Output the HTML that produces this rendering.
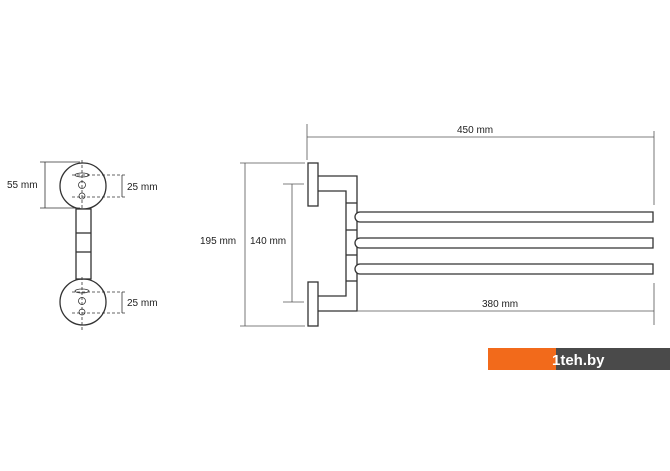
<!DOCTYPE html>
<html><head><style>html,body{margin:0;padding:0;background:#fff}svg{display:block}</style></head>
<body>
<svg width="670" height="471" viewBox="0 0 670 471" xmlns="http://www.w3.org/2000/svg" font-family="Liberation Sans, sans-serif" font-size="10" fill="none" stroke="#333">
<!-- left view -->
<g stroke-width="1.3">
<circle cx="83" cy="186" r="23"/>
<circle cx="83" cy="302" r="23"/>
<rect x="76" y="209" width="15" height="70" fill="#fff"/>
<line x1="76" y1="233" x2="91" y2="233"/>
<line x1="76" y1="252" x2="91" y2="252"/>
</g>
<g stroke-width="0.8">
<ellipse cx="82" cy="175" rx="7" ry="2"/><circle cx="82" cy="185" r="3.5"/><circle cx="82" cy="196" r="3"/>
<ellipse cx="82" cy="291" rx="7" ry="2"/><circle cx="82" cy="301" r="3.5"/><circle cx="82" cy="312" r="3"/>
<line x1="82" y1="160" x2="82" y2="210" stroke-dasharray="3,2"/>
<line x1="82" y1="277" x2="82" y2="330" stroke-dasharray="3,2"/>
<line x1="72" y1="175" x2="126" y2="175" stroke-dasharray="3,2"/>
<line x1="72" y1="197" x2="126" y2="197" stroke-dasharray="3,2"/>
<line x1="72" y1="292" x2="126" y2="292" stroke-dasharray="3,2"/>
<line x1="72" y1="313" x2="126" y2="313" stroke-dasharray="3,2"/>
<line x1="122" y1="175" x2="122" y2="197"/>
<line x1="122" y1="292" x2="122" y2="313"/>
<line x1="45" y1="162" x2="45" y2="208"/>
<line x1="40" y1="162" x2="80" y2="162"/>
<line x1="40" y1="208" x2="80" y2="208"/>
</g>
<g fill="#222" stroke="none">
<text x="7" y="188">55 mm</text>
<text x="127" y="190">25 mm</text>
<text x="127" y="306">25 mm</text>
</g>
<!-- right view -->
<g stroke-width="1.3">
<rect x="308" y="163" width="10" height="43"/>
<rect x="308" y="282" width="10" height="44"/>
<polyline points="318,176 357,176 357,311 318,311"/>
<polyline points="318,191 346,191 346,296 318,296"/>
<line x1="346" y1="203" x2="357" y2="203"/>
<line x1="346" y1="230" x2="357" y2="230"/>
<line x1="346" y1="255" x2="357" y2="255"/>
<line x1="346" y1="281" x2="357" y2="281"/>
<path d="M360,212 H653 V222 H360 A5,5 0 0 1 360,212 Z" fill="#fff"/>
<path d="M360,238 H653 V248 H360 A5,5 0 0 1 360,238 Z" fill="#fff"/>
<path d="M360,264 H653 V274 H360 A5,5 0 0 1 360,264 Z" fill="#fff"/>
</g>
<g stroke-width="0.8" stroke="#555">
<line x1="307" y1="124" x2="307" y2="160"/>
<line x1="307" y1="137" x2="654" y2="137"/>
<line x1="654" y1="131" x2="654" y2="205"/>
<line x1="357" y1="311" x2="654" y2="311"/>
<line x1="654" y1="283" x2="654" y2="325"/>
<line x1="245" y1="163" x2="245" y2="326"/>
<line x1="240" y1="163" x2="305" y2="163"/>
<line x1="240" y1="326" x2="305" y2="326"/>
<line x1="292" y1="184" x2="292" y2="302"/>
<line x1="283" y1="184" x2="304" y2="184"/>
<line x1="283" y1="302" x2="304" y2="302"/>
</g>
<g fill="#222" stroke="none">
<text x="457" y="133">450 mm</text>
<text x="482" y="307">380 mm</text>
<text x="200" y="244">195 mm</text>
<text x="250" y="244">140 mm</text>
</g>
<!-- logo -->
<rect x="488" y="348" width="68" height="22" fill="#f26a1b" stroke="none"/>
<rect x="556" y="348" width="114" height="22" fill="#4a4a4a" stroke="none"/>
<text x="552" y="365" fill="#fff" stroke="none" font-size="15" font-weight="bold">1teh.by</text>
</svg>
</body></html>
